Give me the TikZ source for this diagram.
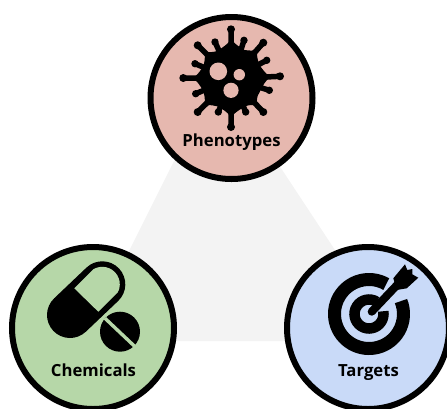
\documentclass[tikz,border=0pt]{standalone}
\usepackage{fontspec}
\setmainfont{Open Sans}
\usetikzlibrary{calc}
\definecolor{pinkfill}{HTML}{E6B8AF}
\definecolor{greenfill}{HTML}{B6D7A8}
\definecolor{bluefill}{HTML}{C9DAF8}
\definecolor{triangle}{HTML}{F3F3F3}
\tikzset{
  disc/.style={circle,draw=black,line width=6pt,minimum size=162pt,inner sep=0pt},
  lab/.style={font=\fontsize{16.7}{20}\selectfont\bfseries,text=black,inner sep=0pt,anchor=base}
}
\begin{document}
\begin{tikzpicture}[x=1pt,y=-1pt]
\useasboundingbox (0,0) rectangle (447,408);
\clip (0,0) rectangle (447,408);
\fill[triangle] (178,153) -- (271,153) -- (395,341) -- (84,341) -- cycle;
\node[disc,fill=pinkfill] (pheno) at (231.5,98) {};
\node[disc,fill=greenfill] (chem) at (93,328) {};
\node[disc,fill=bluefill] (targ) at (368,328) {};
\node[lab] (phenolab) at (231.5,146) {Phenotypes};
\node[lab] (chemlab) at (93.5,376) {Chemicals};
\node[lab] (targlab) at (368.5,376) {Targets};
% virus
\coordinate (vc) at (231.7,78.7);
\fill[black] (vc) circle (31);
\foreach \tx/\ty/\tr/\tw in {231/29.3/4/15,215/42/3.7/11,244/40.3/3.7/11,263.3/42.7/4/15,197.7/45.3/4/15,195/63.7/3.7/11,266.7/60.3/3.7/11,183.3/78/4/15,280/76.3/4/15,195.7/93.7/3.7/11,269.3/90.3/3.7/11,197.7/112/4/15,263.3/112/4/15,218.3/112/3.7/11,245.7/112/3.7/11,231/127/4/15}{
  \coordinate (vt) at (\tx,\ty);
  \coordinate (vm) at ($(vc)!0.55!(vt)$);
  \fill[black] ($(vm)!\tw pt!90:(vt)$) .. controls ($(vc)!0.75!(vt)$) .. (vt) .. controls ($(vc)!0.75!(vt)$) .. ($(vm)!\tw pt!-90:(vt)$) -- cycle;
  \draw[black,line width=5.5pt] ($(vc)!0.6!(vt)$) -- (vt);
  \fill[black] (vt) circle (\tr);
}
\fill[pinkfill] (218.3,71.3) circle (8.8);
\fill[pinkfill] (239.3,74.7) circle (5.7);
\fill[pinkfill] (231,90.3) circle (7.6);
% pill
\draw[black,line width=46pt,line cap=round] (70,315) -- (102.3,284.3);
\begin{scope}
  \clip (74.3,288.3) -- (98.3,311.7) -- (148.3,261.7) -- (124.3,238.3) -- cycle;
  \draw[greenfill,line width=35pt,line cap=round] (70,315) -- (102.3,284.3);
\end{scope}
\fill[black] (120,331.7) circle (20);
\draw[greenfill,line width=3.4pt] (105,318.3) -- (134.5,346.2);
% target
\coordinate (tc) at (369,314);
\draw[black,line width=13pt] ($(tc)+(60:34.5 and -34.5)$) arc[start angle=-60,end angle=-382,radius=34.5];
\draw[black,line width=10.5pt] ($(tc)+(57:14.5 and -14.5)$) arc[start angle=-57,end angle=-371,radius=14.5];
\draw[black,line width=8pt,line cap=round] (371.7,311.7) -- (398,284);
\fill[black] (393.3,278.3) -- (405,264.3) -- (407.3,270) -- (412.3,269) -- (412.3,274.3) -- (418.3,277.7) -- (406.7,288.3) -- (396.7,290) -- cycle;
\end{tikzpicture}
\end{document}
